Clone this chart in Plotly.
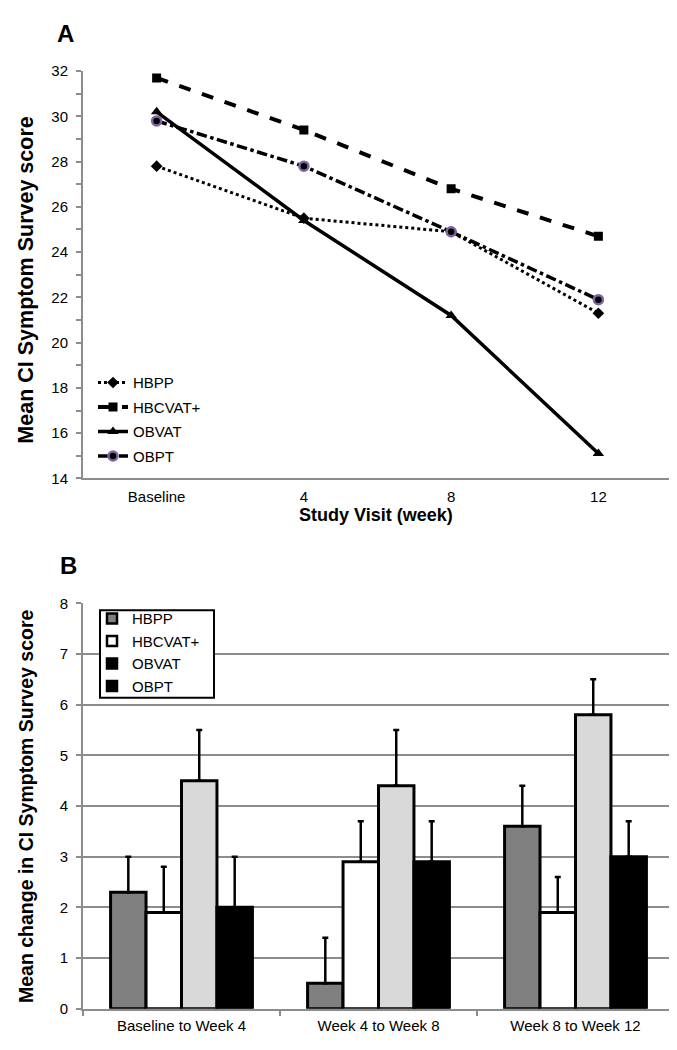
import plotly.graph_objects as go

# ---------------- Data ----------------
visits = ["Baseline", "4", "8", "12"]
hbpp_a = [27.8, 25.5, 24.9, 21.3]
hbcvat_a = [31.7, 29.4, 26.8, 24.7]
obvat_a = [30.2, 25.4, 21.2, 15.1]
obpt_a = [29.8, 27.8, 24.9, 21.9]

periods = ["Baseline to Week 4", "Week 4 to Week 8", "Week 8 to Week 12"]
hbpp_b = [2.3, 0.5, 3.6]
hbcvat_b = [1.9, 2.9, 1.9]
obvat_b = [4.5, 4.4, 5.8]
obpt_b = [2.0, 2.9, 3.0]
hbpp_err = [0.7, 0.9, 0.8]
hbcvat_err = [0.9, 0.8, 0.7]
obvat_err = [1.0, 1.1, 0.7]
obpt_err = [1.0, 0.8, 0.7]

series_names = ["HBPP", "HBCVAT+", "OBVAT", "OBPT"]

W, H = 677, 1050
FONT = "Liberation Sans, Arial, sans-serif"
AXIS_GREY = "#8c8c8c"
PURPLE = "#8064a2"

def px(x):
    return x / W

def py(y):
    return 1 - y / H

fig = go.Figure()

# ---------------- Panel A: lines ----------------
line_specs = [
    ("HBPP", hbpp_a, dict(dash="dot", width=3), dict(symbol="diamond", size=9, color="black")),
    ("HBCVAT+", hbcvat_a, dict(dash="dash", width=4), dict(symbol="square", size=9, color="black")),
    ("OBVAT", obvat_a, dict(dash="solid", width=3.5), dict(symbol="triangle-up", size=10, color="black")),
    ("OBPT", obpt_a, dict(dash="dashdot", width=3.5),
     dict(symbol="circle", size=9, color="black", line=dict(color=PURPLE, width=2.5))),
]
for i, (name, vals, ln, mk) in enumerate(line_specs):
    fig.add_trace(go.Scatter(
        x=visits, y=vals, name=name, mode="lines+markers",
        line=dict(color="black", **ln), marker=mk,
        xaxis="x", yaxis="y", legend="legend", legendgroup=f"a{i}",
    ))

# ---------------- Panel B: bars ----------------
bar_specs = [
    ("HBPP", hbpp_b, hbpp_err, "#808080"),
    ("HBCVAT+", hbcvat_b, hbcvat_err, "#ffffff"),
    ("OBVAT", obvat_b, obvat_err, "#d9d9d9"),
    ("OBPT", obpt_b, obpt_err, "#000000"),
]
for name, vals, err, col in bar_specs:
    fig.add_trace(go.Bar(
        x=periods, y=vals, name=name, showlegend=False,
        marker=dict(color=col, line=dict(color="black", width=3)),
        error_y=dict(type="data", symmetric=False, array=err,
                     arrayminus=[0] * len(err), color="black",
                     thickness=2.5, width=3),
        xaxis="x2", yaxis="y2",
    ))

# legend entries for panel B (as shown in the reference legend)
legend_b_fill = ["#808080", "#ffffff", "#000000", "#000000"]
for i, (name, col) in enumerate(zip(series_names, legend_b_fill)):
    fig.add_trace(go.Scatter(
        x=[None], y=[None], mode="markers", name=name,
        marker=dict(symbol="square", size=10, color=col, line=dict(color="black", width=2.5)),
        xaxis="x2", yaxis="y2", legend="legend2", legendgroup=f"b{i}",
    ))

tick_font = dict(family=FONT, size=15, color="black")

fig.update_layout(
    width=W, height=H,
    margin=dict(l=0, r=0, t=0, b=0),
    paper_bgcolor="white", plot_bgcolor="white",
    font=dict(family=FONT, color="black"),
    barmode="group", bargap=0.28, bargroupgap=0,
    xaxis=dict(
        domain=[px(75), px(664)], anchor="y",
        type="category", range=[-0.5, 3.5],
        showline=True, linecolor=AXIS_GREY, linewidth=2,
        ticks="", showgrid=False, zeroline=False,
        tickfont=tick_font, ticklabelstandoff=4,
    ),
    yaxis=dict(
        domain=[py(469), py(55)], anchor="x",
        range=[14, 32], dtick=2, tick0=14,
        showline=True, linecolor=AXIS_GREY, linewidth=2,
        ticks="outside", ticklen=5, tickwidth=2, tickcolor=AXIS_GREY,
        minor=dict(dtick=1, ticks="outside", ticklen=5, tickwidth=2, tickcolor=AXIS_GREY),
        showgrid=False, zeroline=False,
        tickfont=tick_font, ticklabelstandoff=5,
    ),
    xaxis2=dict(
        domain=[px(75), px(666)], anchor="y2",
        type="category", range=[-0.5, 2.5],
        showline=True, linecolor=AXIS_GREY, linewidth=2,
        ticks="outside", tickson="boundaries", ticklen=5, tickwidth=2, tickcolor=AXIS_GREY,
        showgrid=False, zeroline=False,
        tickfont=tick_font, ticklabelstandoff=2,
    ),
    yaxis2=dict(
        domain=[py(1008), py(596)], anchor="x2",
        range=[0, 8], dtick=1,
        showline=True, linecolor=AXIS_GREY, linewidth=2,
        ticks="outside", ticklen=5, tickwidth=2, tickcolor=AXIS_GREY,
        showgrid=True, gridcolor=AXIS_GREY, gridwidth=2,
        zeroline=False,
        tickfont=tick_font, ticklabelstandoff=5,
    ),
    legend=dict(
        x=px(85), y=py(355), xanchor="left", yanchor="top",
        bgcolor="rgba(0,0,0,0)", borderwidth=0,
        font=dict(family=FONT, size=15, color="black"),
        tracegroupgap=2, itemwidth=30,
    ),
    legend2=dict(
        x=px(84), y=py(595), xanchor="left", yanchor="top",
        bgcolor="rgba(0,0,0,0)", borderwidth=0,
        font=dict(family=FONT, size=15, color="black"),
        tracegroupgap=0, itemwidth=30,
    ),
    shapes=[
        dict(type="rect", xref="paper", yref="paper",
             x0=px(92), x1=px(206), y0=py(692), y1=py(603),
             line=dict(color="black", width=2), fillcolor="white", layer="above"),
    ],
    annotations=[
        dict(text="<b>A</b>", x=px(57), y=py(17), xref="paper", yref="paper",
             xanchor="center", yanchor="middle", showarrow=False,
             font=dict(family=FONT, size=24, color="black")),
        dict(text="<b>B</b>", x=px(60), y=py(558), xref="paper", yref="paper",
             xanchor="center", yanchor="middle", showarrow=False,
             font=dict(family=FONT, size=24, color="black")),
        dict(text="<b>Mean CI Symptom Survey score</b>", x=px(18), y=py(268),
             xref="paper", yref="paper", xanchor="center", yanchor="middle",
             textangle=-90, showarrow=False,
             font=dict(family=FONT, size=21.5, color="black")),
        dict(text="<b>Study Visit (week)</b>", x=px(368), y=py(506),
             xref="paper", yref="paper", xanchor="center", yanchor="middle",
             showarrow=False, font=dict(family=FONT, size=18, color="black")),
        dict(text="<b>Mean change in CI Symptom Survey score</b>", x=px(18), y=py(802),
             xref="paper", yref="paper", xanchor="center", yanchor="middle",
             textangle=-90, showarrow=False,
             font=dict(family=FONT, size=19.5, color="black")),
    ],
)

fig.write_html("out.html")
